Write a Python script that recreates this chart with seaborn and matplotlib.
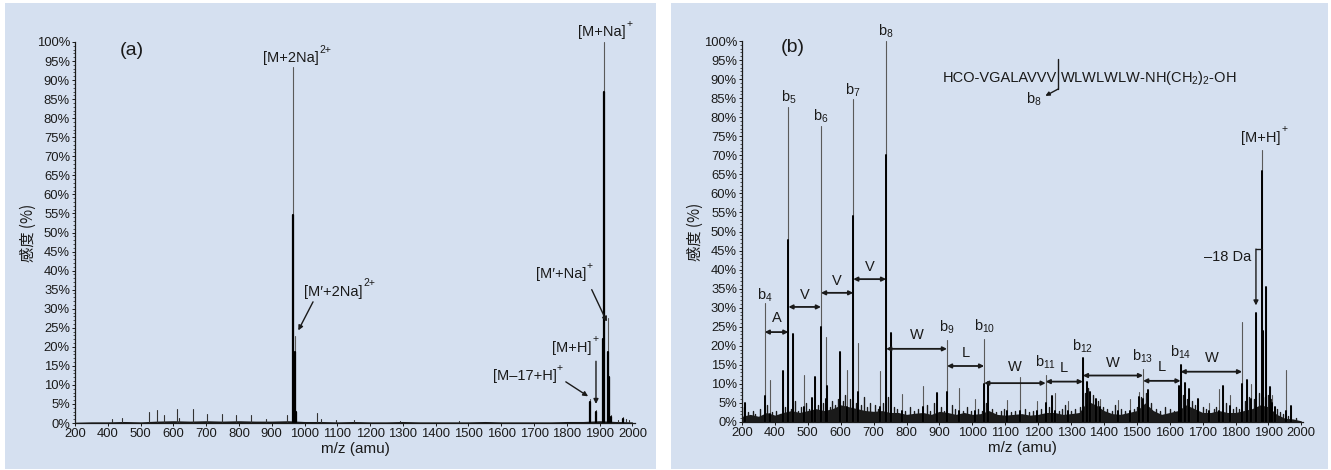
import numpy as np
import pandas as pd
import matplotlib
matplotlib.use("Agg")
import matplotlib.pyplot as plt
from matplotlib.patches import Rectangle
from matplotlib.ticker import FixedLocator, MultipleLocator
import seaborn as sns

sns.set_theme(style="ticks")
plt.rcParams["font.family"] = ["Liberation Sans", "Noto Sans CJK JP", "DejaVu Sans"]
plt.rcParams["mathtext.fontset"] = "custom"
plt.rcParams["mathtext.rm"] = "Liberation Sans"
plt.rcParams["mathtext.it"] = "Liberation Sans:italic"
plt.rcParams["mathtext.bf"] = "Liberation Sans:bold"

# ---------------- axis ticks ----------------
xtick_pos = [300, 400, 500, 600, 700, 800, 900, 1000, 1100, 1200,
             1300, 1400, 1500, 1600, 1700, 1800, 1900, 2000]
xtick_labels = ["200", "400", "500", "600", "700", "800", "900", "1000", "1100",
                "1200", "1300", "1400", "1500", "1600", "1700", "1800", "1900", "2000"]
ytick_pos = list(range(0, 101, 5))
ytick_labels = [f"{v}%" for v in ytick_pos]

# ---------------- panel (a): MS of gramicidin ----------------
a_peak_mz = [965, 971, 975, 1872, 1890, 1909, 1912, 1926, 1929, 1935, 1970]
a_peak_top = [93.4, 22.8, 2.9, 6.3, 3.5, 22.0, 100.0, 27.5, 12.0, 2.0, 1.5]
a_peak_core = [54.6, 18.6, 2.9, 5.5, 3.0, 22.0, 87.0, 18.6, 12.0, 1.5, 1.0]

a_spike_mz = [413, 443, 526, 551, 571, 612, 616, 659, 704, 748, 792, 836, 882,
              948, 1038, 1050, 1095, 1150, 1290, 1470, 1955, 1980, 1990]
a_spike_h = [1.1, 1.2, 2.9, 3.3, 2.0, 3.8, 1.2, 3.8, 2.4, 2.4, 2.0, 2.0, 1.0,
             2.2, 2.5, 1.0, 0.8, 0.7, 0.6, 0.5, 0.9, 1.0, 0.8]

a_floor_mz = [300, 350, 400, 450, 500, 550, 600, 650, 700, 750, 800, 850, 900,
              950, 1000, 1050, 1100, 1150, 1200, 1250, 1300, 1350, 1400, 1450,
              1500, 1550, 1600, 1650, 1700, 1750, 1800, 1850, 1900, 1950, 2000]
a_floor_h = [0.2, 0.3, 0.3, 0.4, 0.3, 0.5, 0.6, 0.5, 0.6, 0.5, 0.6, 0.5, 0.5,
             0.6, 0.4, 0.4, 0.3, 0.4, 0.3, 0.3, 0.4, 0.3, 0.3, 0.3, 0.3, 0.4,
             0.3, 0.3, 0.3, 0.3, 0.4, 0.4, 0.6, 0.4, 0.3]

# ---------------- panel (b): MS/MS of [M+H]+ ----------------
b_peak_mz = [309, 369, 385, 424, 441, 456, 487, 512, 522, 540, 554, 557, 599, 620,
             638, 654, 719, 738, 752, 785, 849, 892, 923, 960, 1008, 1036, 1049,
             1105, 1146, 1196, 1223, 1243, 1250, 1291, 1336, 1348, 1358, 1375,
             1388, 1443, 1479, 1507, 1519, 1535, 1627, 1633, 1647, 1660, 1686,
             1720, 1751, 1763, 1783, 1820, 1834, 1847, 1862, 1881, 1884, 1893,
             1904, 1912, 1920, 1952, 1968]
b_peak_top = [5.0, 31.2, 11.0, 13.5, 82.8, 23.0, 12.3, 6.4, 11.8, 77.8, 22.4, 9.4,
              18.4, 13.6, 84.7, 20.7, 13.5, 100.0, 23.3, 7.3, 9.4, 7.7, 21.5, 8.9,
              6.0, 21.7, 10.6, 5.8, 11.8, 5.5, 12.3, 6.9, 7.5, 5.5, 16.7, 10.6,
              8.0, 6.0, 6.0, 5.7, 6.0, 8.0, 14.0, 8.4, 9.4, 15.0, 10.2, 8.7, 6.0,
              5.0, 8.7, 9.4, 7.0, 26.3, 11.0, 10.0, 28.5, 71.4, 24.0, 35.5, 9.3,
              7.0, 4.0, 13.6, 4.2]
b_peak_core = [5.0, 6.8, 2.0, 13.5, 47.8, 23.0, 4.0, 6.4, 11.8, 25.0, 6.0, 9.4,
               18.4, 4.0, 54.0, 8.0, 4.0, 70.0, 23.3, 3.0, 4.0, 7.7, 8.0, 3.0,
               3.0, 10.0, 10.6, 3.0, 3.0, 3.0, 5.0, 6.9, 3.0, 3.0, 16.7, 10.6,
               8.0, 6.0, 4.0, 3.0, 3.0, 6.6, 6.0, 8.4, 9.4, 15.0, 10.2, 8.7, 6.0,
               3.0, 3.0, 9.4, 4.2, 10.0, 11.0, 6.0, 28.5, 66.0, 24.0, 35.5, 9.3,
               5.0, 4.0, 3.0, 4.2]

# low-level fragment noise
b_noise_mz = [305, 318, 332, 341, 356, 377, 392, 403, 415, 432, 448, 462, 470, 478,
              495, 503, 531, 545, 566, 574, 583, 591, 608, 613, 627, 645, 662, 670,
              681, 690, 703, 712, 728, 745, 763, 771, 796, 812, 823, 836, 862, 871,
              884, 905, 913, 937, 948, 972, 985, 997, 1017, 1028, 1043, 1060, 1071,
              1088, 1096, 1118, 1131, 1160, 1172, 1185, 1210, 1232, 1262, 1274,
              1283, 1300, 1312, 1326, 1342, 1353, 1366, 1381, 1396, 1410, 1424,
              1433, 1452, 1465, 1490, 1500, 1513, 1527, 1544, 1558, 1571, 1586,
              1600, 1612, 1641, 1653, 1668, 1676, 1700, 1710, 1733, 1742, 1770,
              1792, 1802, 1811, 1828, 1841, 1855, 1870, 1889, 1899, 1908, 1926,
              1934, 1943, 1960, 1985]
b_noise_h = [4.0, 2.5, 3.0, 2.0, 3.5, 4.5, 2.5, 3.0, 2.0, 4.0, 3.5, 5.5, 3.0, 4.0,
             5.0, 3.5, 4.5, 5.0, 4.0, 5.5, 4.5, 6.0, 5.5, 7.0, 6.0, 5.0, 4.5, 6.5,
             4.0, 5.0, 4.5, 3.5, 5.0, 6.5, 4.0, 3.5, 3.0, 4.0, 3.0, 3.5, 4.5, 3.0,
             5.0, 4.0, 3.0, 4.5, 3.5, 3.0, 4.0, 3.0, 3.5, 3.0, 5.0, 3.5, 2.5,
             3.0, 3.5, 2.5, 3.0, 3.5, 2.5, 3.0, 3.5, 4.0, 3.0, 3.5,
             4.5, 3.0, 3.5, 4.0, 7.5, 9.0, 7.0, 5.5, 4.0, 3.5, 3.0,
             4.5, 3.5, 3.0, 3.5, 4.0, 6.5, 7.5, 5.0, 3.5, 3.0, 4.0,
             3.5, 3.0, 7.0, 6.0, 5.5, 4.5, 4.0, 3.5, 3.5, 4.0, 5.0,
             3.5, 4.0, 3.5, 5.5, 6.5, 6.0, 7.5, 6.5, 7.0, 6.0, 3.5,
             2.5, 2.0, 1.5, 1.0]

b_floor_mz = [300, 325, 350, 375, 400, 425, 450, 475, 500, 525, 550, 575, 600,
              625, 650, 675, 700, 725, 750, 775, 800, 825, 850, 875, 900, 925,
              950, 975, 1000, 1025, 1050, 1075, 1100, 1125, 1150, 1175, 1200,
              1225, 1250, 1275, 1300, 1325, 1350, 1375, 1400, 1425, 1450, 1475,
              1500, 1525, 1550, 1575, 1600, 1625, 1650, 1675, 1700, 1725, 1750,
              1775, 1800, 1825, 1850, 1875, 1900, 1925, 1950, 1975, 2000]
b_floor_h = [1.5, 2.0, 1.5, 2.5, 1.8, 2.5, 3.0, 2.5, 3.0, 3.5, 3.0, 3.5, 4.5,
             4.0, 3.5, 3.0, 2.8, 3.0, 2.5, 2.5, 2.0, 2.3, 2.5, 2.0, 2.8, 2.5,
             2.0, 2.5, 2.0, 2.2, 3.0, 2.0, 1.8, 2.0, 2.2, 1.8, 2.0, 2.5, 2.5,
             2.0, 2.2, 2.5, 5.5, 4.5, 3.0, 2.2, 2.0, 2.5, 3.0, 5.0, 3.0, 2.0,
             2.5, 3.0, 4.5, 3.5, 2.5, 2.5, 3.0, 2.5, 2.5, 3.0, 3.5, 4.5, 4.0,
             2.0, 1.0, 0.8, 0.3]

# b-ion ladder
b_ion_names = ["b$_{4}$", "b$_{5}$", "b$_{6}$", "b$_{7}$", "b$_{8}$", "b$_{9}$",
               "b$_{10}$", "b$_{11}$", "b$_{12}$", "b$_{13}$", "b$_{14}$"]
b_ion_mz = [369, 441, 540, 638, 738, 923, 1036, 1223, 1336, 1519, 1633]
b_ion_label_y = [33.3, 85.2, 80.2, 87.0, 102.6, 24.9, 25.2, 15.8, 19.9, 17.3, 18.2]

# residue gaps between consecutive b ions
res_names = ["A", "V", "V", "V", "W", "L", "W", "L", "W", "L", "W"]
res_from = [369, 441, 540, 638, 738, 923, 1036, 1223, 1336, 1519, 1633]
res_to = [441, 540, 638, 738, 923, 1036, 1223, 1336, 1519, 1633, 1820]
res_arrow_y = [23.6, 30.2, 33.9, 37.5, 19.2, 14.7, 10.2, 10.6, 12.2, 10.8, 13.2]
res_label_y = [27.3, 33.3, 36.9, 40.6, 22.8, 18.2, 14.4, 14.1, 15.4, 14.5, 16.9]

BG = "#d5e0f0"
INK = "#1a1a1a"
FS = 10.5
FS_SUP = 7.5

W, H = 1331, 470
fig = plt.figure(figsize=(W / 100, H / 100), dpi=100)
fig.patch.set_facecolor("white")

# panel backgrounds
for x0, x1 in [(5, 656), (671, 1328)]:
    fig.add_artist(Rectangle((x0 / W, 1 / H), (x1 - x0) / W, 466 / H,
                             transform=fig.transFigure, facecolor=BG,
                             edgecolor="none", zorder=-10))


def px_axes(left, right, bottom, top):
    return fig.add_axes([left / W, (H - bottom) / H, (right - left) / W,
                         (bottom - top) / H])


def stick_frame(mz, h):
    mz = np.asarray(mz, float)
    h = np.asarray(h, float)
    n = len(mz)
    return pd.DataFrame({
        "mz": np.repeat(mz, 2),
        "intensity": np.column_stack([np.zeros(n), h]).ravel(),
        "peak": np.repeat(np.arange(n), 2),
    })


def draw_sticks(ax, mz, h, color, lw):
    sns.lineplot(data=stick_frame(mz, h), x="mz", y="intensity", units="peak",
                 estimator=None, sort=False, color=color, lw=lw, ax=ax,
                 legend=False)


def style_axes(ax, xmax):
    ax.set_facecolor("none")
    ax.set_xlim(300, xmax)
    ax.set_ylim(0, 100)
    ax.xaxis.set_major_locator(FixedLocator(xtick_pos))
    ax.set_xticklabels(xtick_labels)
    ax.yaxis.set_major_locator(FixedLocator(ytick_pos))
    ax.set_yticklabels(ytick_labels)
    ax.yaxis.set_minor_locator(MultipleLocator(1))
    ax.tick_params(axis="both", which="major", direction="out", length=2.4,
                   width=0.7, color=INK, labelsize=9.4, labelcolor=INK, pad=1.2)
    ax.tick_params(axis="y", which="minor", direction="out", length=1.4,
                   width=0.5, color=INK)
    sns.despine(ax=ax)
    for s in ("left", "bottom"):
        ax.spines[s].set_color(INK)
        ax.spines[s].set_linewidth(0.9)
    ax.set_xlabel("m/z (amu)", fontsize=11, color=INK)
    ax.xaxis.label.set_va("center")
    ax.xaxis.set_label_coords(0.5, -0.068)
    ax.set_ylabel("感度 (%)", fontsize=11, color=INK,
                  family=["Noto Sans CJK JP", "Liberation Sans"])
    ax.yaxis.label.set_va("center")
    ax.yaxis.set_label_coords(-0.084, 0.5)


def arrow(ax, xy, xytext, style="-|>", lw=1.0, scale=7):
    ax.annotate("", xy=xy, xytext=xytext,
                arrowprops=dict(arrowstyle=style, lw=lw, color=INK,
                                mutation_scale=scale, shrinkA=0, shrinkB=0),
                annotation_clip=False)


def ion_label(ax, x, y, base, sup, ha="center"):
    t = ax.text(x, y, base, fontsize=FS, color=INK, ha=ha, va="center",
                clip_on=False)
    ax.annotate(sup, xy=(1.0, 1.0), xycoords=t, xytext=(0.4, 1.0),
                textcoords="offset points", fontsize=FS_SUP, color=INK,
                ha="left", va="center", annotation_clip=False)
    return t


# ================= panel (a) =================
ax = px_axes(75, 635, 423, 42)
ax.fill_between(a_floor_mz, a_floor_h, color=INK, lw=0)
draw_sticks(ax, a_spike_mz, a_spike_h, "#333333", 0.8)
draw_sticks(ax, a_peak_mz, a_peak_top, "#5a5a5a", 0.8)
draw_sticks(ax, a_peak_mz, a_peak_core, "black", 1.6)
style_axes(ax, 2008)

ax.text(0.102, 0.979, "(a)", transform=ax.transAxes, fontsize=14, color=INK,
        ha="center", va="center")
ion_label(ax, 958, 95.8, "[M+2Na]", "2+")
ion_label(ax, 1908, 102.6, "[M+Na]", "+")
ion_label(ax, 999, 34.5, "[M\u2032+2Na]", "2+", ha="left")
arrow(ax, (981, 24.3), (1026, 31.8))
ion_label(ax, 1782, 39.0, "[M\u2032+Na]", "+")
arrow(ax, (1922, 26.6), (1876, 35.0))
ion_label(ax, 1815, 19.8, "[M+H]", "+")
arrow(ax, (1889, 5.0), (1889, 16.2))
ion_label(ax, 1671, 12.3, "[M\u201317+H]", "+")
arrow(ax, (1865, 7.0), (1797, 10.8))

# ================= panel (b) =================
bx = px_axes(742, 1303, 422, 41)
bx.fill_between(b_floor_mz, b_floor_h, color=INK, lw=0)
draw_sticks(bx, b_noise_mz, b_noise_h, INK, 1.0)
draw_sticks(bx, b_peak_mz, b_peak_top, "#5a5a5a", 0.8)
draw_sticks(bx, b_peak_mz, b_peak_core, "black", 1.4)
style_axes(bx, 2005)

bx.text(0.091, 0.982, "(b)", transform=bx.transAxes, fontsize=14, color=INK,
        ha="center", va="center")

for name, mz, y in zip(b_ion_names, b_ion_mz, b_ion_label_y):
    bx.text(mz, y, name, fontsize=FS, color=INK, ha="center", va="center",
            clip_on=False)

for name, x0, x1, ya, yl in zip(res_names, res_from, res_to, res_arrow_y, res_label_y):
    arrow(bx, (x1, ya), (x0, ya), style="<|-|>", lw=1.3, scale=6)
    bx.text((x0 + x1) / 2, yl, name, fontsize=FS, color=INK, ha="center", va="center")

# peptide sequence with the b8 cleavage site
bx.text(1257, 90.4, "HCO-VGALAVVV", fontsize=FS, color=INK, ha="right", va="center")
bx.text(1265, 90.4, "WLWLWLW-NH(CH$_{2}$)$_{2}$-OH", fontsize=FS, color=INK,
        ha="left", va="center")
bx.plot([1261, 1261], [95.2, 87.4], color=INK, lw=1.0)
arrow(bx, (1222, 85.6), (1261, 87.4), lw=1.0, scale=6)
bx.text(1186, 84.6, "b$_{8}$", fontsize=FS, color=INK, ha="center", va="center")

# precursor and water loss
ion_label(bx, 1877, 74.6, "[M+H]", "+")
bx.plot([1881, 1862], [45.4, 45.4], color=INK, lw=1.0)
arrow(bx, (1862, 30.6), (1862, 45.4), lw=1.0, scale=7)
bx.text(1847, 43.4, "\u201318 Da", fontsize=FS, color=INK, ha="right", va="center")

fig.savefig("out.png", dpi=100, facecolor="white")
